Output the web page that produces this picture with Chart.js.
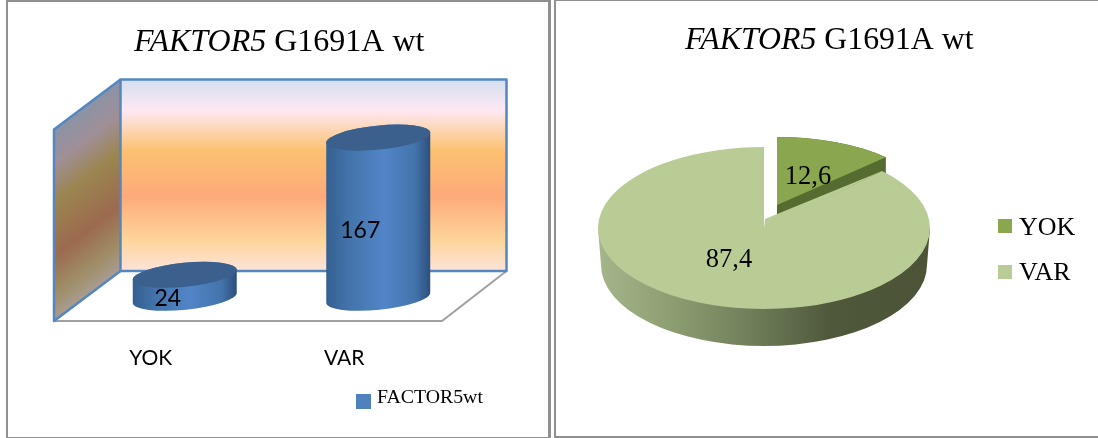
<!DOCTYPE html>
<html>
<head>
<meta charset="utf-8">
<script src="https://cdn.jsdelivr.net/npm/chart.js@4"></script>
<style>
html, body { margin: 0; background: #fff; overflow: hidden; }
.frame { position: absolute; top: 0; height: 435px; border: solid #8f8f8f; box-sizing: content-box; }
#frameL { left: 6px; width: 540px; border-width: 2px 3px 2px 2px; }
#frameR { left: 554px; width: 544px; border-width: 1px 0 2px 2px; }
canvas { position: absolute; top: 0; }
#barChart { left: 0; }
#pieChart { left: 552px; }
</style>
</head>
<body>
<div class="frame" id="frameL"></div>
<div class="frame" id="frameR"></div>
<canvas id="barChart" width="552" height="438"></canvas>
<canvas id="pieChart" width="546" height="438"></canvas>
<script>
var categories = ["YOK", "VAR"];
var counts = [24, 167];
var percents = [12.6, 87.4];
var seriesName = "FACTOR5wt";
var titleItalic = "FAKTOR5";
var titleRest = " G1691A wt";

var BLUE = "#4f81bd", GREEN = "#8aa64f", LIGHT_GREEN = "#b9cc95";
var SERIF = '"Liberation Serif"', SANS = "Lato";

function drawTitle(ctx, x, y, size) {
  ctx.save();
  ctx.fillStyle = "#000";
  ctx.textBaseline = "alphabetic";
  ctx.textAlign = "left";
  ctx.font = "italic " + size + "px " + SERIF;
  ctx.fillText(titleItalic, x, y);
  var w = ctx.measureText(titleItalic).width;
  ctx.font = size + "px " + SERIF;
  ctx.fillText(titleRest, x + w, y);
  ctx.restore();
}

function drawKey(ctx, x, y, size, color, text, font, textX, baseline) {
  ctx.save();
  ctx.fillStyle = color;
  ctx.fillRect(x, y, size, size);
  ctx.fillStyle = "#000";
  ctx.textAlign = "left";
  ctx.textBaseline = "alphabetic";
  ctx.font = font;
  ctx.fillText(text, textX, baseline);
  ctx.restore();
}

// back wall, side wall and floor of the 3d box
function drawBox(ctx) {
  var backL = 120.5, backR = 506.5, top = 79.5, floorY = 271;
  var frontL = 54, frontR = 442, frontY = 321;
  var sideTop = top + (frontY - floorY);

  var back = ctx.createLinearGradient(0, top, 0, floorY);
  back.addColorStop(0, "#d3dff0");
  back.addColorStop(0.16, "#fde8f3");
  back.addColorStop(0.37, "#fcc171");
  back.addColorStop(0.61, "#fdaa7a");
  back.addColorStop(0.84, "#fdd59b");
  back.addColorStop(1, "#fde3da");
  ctx.fillStyle = back;
  ctx.fillRect(backL, top, backR - backL, floorY - top);

  var side = ctx.createLinearGradient(frontL, sideTop, frontL + 92.5, sideTop + 121.7);
  side.addColorStop(0, "#8a93a6");
  side.addColorStop(0.18, "#a08f97");
  side.addColorStop(0.38, "#9b8550");
  side.addColorStop(0.66, "#9b6a4f");
  side.addColorStop(0.86, "#9f8d66");
  side.addColorStop(1, "#a89d92");
  ctx.fillStyle = side;
  ctx.beginPath();
  ctx.moveTo(frontL, sideTop);
  ctx.lineTo(backL, top);
  ctx.lineTo(backL, floorY);
  ctx.lineTo(frontL, frontY);
  ctx.closePath();
  ctx.fill();

  ctx.lineWidth = 2;
  ctx.strokeStyle = "#a0a0a0";
  ctx.beginPath();
  ctx.moveTo(frontL, frontY);
  ctx.lineTo(frontR, frontY);
  ctx.lineTo(backR, floorY);
  ctx.stroke();

  ctx.lineWidth = 2.5;
  ctx.strokeStyle = "#5487c2";
  ctx.lineJoin = "round";
  ctx.strokeRect(backL, top, backR - backL, floorY - top);
  ctx.beginPath();
  ctx.moveTo(backL, top);
  ctx.lineTo(frontL, sideTop);
  ctx.lineTo(frontL, frontY);
  ctx.lineTo(backL, floorY);
  ctx.stroke();
}

// draws a tilted cylinder over a bar element
function drawCylinder(ctx, bar) {
  var a = bar.width * 0.54, b = 12, tilt = -0.1;
  var cx = bar.x, topY = bar.y, baseY = bar.base;
  var body = ctx.createLinearGradient(cx - a, 0, cx + a, 0);
  body.addColorStop(0, "#345f90");
  body.addColorStop(0.2, "#4272a8");
  body.addColorStop(0.55, "#5285c7");
  body.addColorStop(0.85, "#4474ac");
  body.addColorStop(1, "#2c4f7c");
  ctx.fillStyle = body;
  ctx.beginPath();
  ctx.ellipse(cx, baseY, a, b, tilt, Math.PI, 0, true);
  ctx.ellipse(cx, topY, a, b, tilt, 0, Math.PI, true);
  ctx.closePath();
  ctx.fill();
  ctx.fillStyle = "#3b608e";
  ctx.beginPath();
  ctx.ellipse(cx, topY, a, b, tilt, 0, Math.PI * 2);
  ctx.fill();
}

var cylinderPlugin = {
  id: "cylinders",
  beforeDatasetsDraw: function (chart) {
    drawBox(chart.ctx);
  },
  afterDatasetsDraw: function (chart) {
    var ctx = chart.ctx;
    var bars = chart.getDatasetMeta(0).data;
    bars.forEach(function (bar) { drawCylinder(ctx, bar); });

    ctx.save();
    ctx.fillStyle = "#000";
    ctx.font = "23px " + SANS;
    ctx.textAlign = "center";
    ctx.textBaseline = "middle";
    ctx.fillText(String(counts[0]), bars[0].x - 17, 299);
    ctx.fillText(String(counts[1]), bars[1].x - 18, 231);
    ctx.restore();

    drawTitle(ctx, 134, 51, 32);
    drawKey(ctx, 356, 394, 15, BLUE, seriesName, "19.8px " + SERIF, 377, 403);
  }
};

new Chart(document.getElementById("barChart").getContext("2d"), {
  type: "bar",
  data: {
    labels: categories,
    datasets: [{ label: seriesName, data: counts, backgroundColor: BLUE, barPercentage: 0.5, categoryPercentage: 1 }]
  },
  options: {
    responsive: false,
    animation: false,
    layout: { padding: { left: 88, right: 77, top: 106, bottom: 19 } },
    plugins: { legend: { display: false }, tooltip: { enabled: false } },
    scales: {
      y: { display: false, min: 0, max: 200 },
      x: {
        grid: { display: false, drawTicks: false },
        border: { display: false },
        ticks: { color: "#000", padding: 48, labelOffset: -34, font: { family: SANS, size: 21 } }
      }
    }
  },
  plugins: [cylinderPlugin]
});

// pie faces are squashed into ellipses, one placement per slice
var OFFSET_X = 552;
var faces = [
  { cx: 777 - OFFSET_X, cy: 205, rx: 153, ry: 68 },
  { cx: 764 - OFFSET_X, cy: 228, rx: 166, ry: 81 }
];
var DEPTH = 37;

function drawRim(ctx, arcs) {
  var main = faces[1];
  var wall = ctx.createLinearGradient(main.cx - main.rx, 0, main.cx + main.rx, 0);
  wall.addColorStop(0, "#a6b68c");
  wall.addColorStop(0.22, "#8d9e72");
  wall.addColorStop(0.46, "#6f7f5a");
  wall.addColorStop(0.7, "#4f583b");
  wall.addColorStop(1, "#4c5337");
  ctx.fillStyle = wall;
  ctx.beginPath();
  ctx.moveTo(main.cx - main.rx, main.cy);
  ctx.lineTo(main.cx - main.rx + 3, main.cy + DEPTH);
  ctx.ellipse(main.cx, main.cy + DEPTH, main.rx - 3, main.ry, 0, Math.PI, 0, true);
  ctx.lineTo(main.cx + main.rx, main.cy);
  ctx.closePath();
  ctx.fill();

  // side of the pulled out slice
  var f = faces[0], a = arcs[0];
  ctx.fillStyle = "#566b30";
  ctx.beginPath();
  ctx.moveTo(f.cx, f.cy);
  ctx.ellipse(f.cx, f.cy, f.rx, f.ry, 0, a.startAngle, a.endAngle);
  ctx.lineTo(f.cx + f.rx * Math.cos(a.endAngle), f.cy + f.ry * Math.sin(a.endAngle) + DEPTH);
  ctx.lineTo(f.cx, f.cy + DEPTH);
  ctx.closePath();
  ctx.fill();
}

var piePlugin = {
  id: "pie3d",
  beforeDatasetsDraw: function (chart) {
    var ctx = chart.ctx;
    var arcs = chart.getDatasetMeta(0).data;
    drawRim(ctx, arcs);
    arcs.forEach(function (arc, i) {
      var f = faces[i];
      ctx.save();
      ctx.translate(f.cx, f.cy);
      ctx.scale(f.rx / arc.outerRadius, f.ry / arc.outerRadius);
      ctx.translate(-arc.x, -arc.y);
      arc.draw(ctx);
      ctx.restore();
    });

    // inner corner of the large slice sits above the ellipse centre
    var m = faces[1], e = arcs[0].endAngle;
    ctx.fillStyle = LIGHT_GREEN;
    ctx.beginPath();
    ctx.moveTo(m.cx, m.cy + 1);
    ctx.lineTo(m.cx + 1, 219);
    ctx.lineTo(m.cx + m.rx * Math.cos(e), m.cy + m.ry * Math.sin(e));
    ctx.closePath();
    ctx.fill();
    return false;
  },
  afterDraw: function (chart) {
    var ctx = chart.ctx;
    ctx.save();
    ctx.fillStyle = "#000";
    ctx.font = "26.5px " + SERIF;
    ctx.textAlign = "center";
    ctx.textBaseline = "alphabetic";
    ctx.fillText(String(percents[0]).replace(".", ","), 808 - OFFSET_X, 184);
    ctx.fillText(String(percents[1]).replace(".", ","), 729 - OFFSET_X, 267);
    ctx.restore();

    drawTitle(ctx, 685 - OFFSET_X, 48.5, 31.8);
    drawKey(ctx, 998 - OFFSET_X, 219, 14, GREEN, categories[0], "26px " + SERIF, 1019 - OFFSET_X, 235);
    drawKey(ctx, 998 - OFFSET_X, 265, 14, LIGHT_GREEN, categories[1], "26px " + SERIF, 1019 - OFFSET_X, 280);
  }
};

new Chart(document.getElementById("pieChart").getContext("2d"), {
  type: "pie",
  data: {
    labels: categories,
    datasets: [{ data: percents, backgroundColor: [GREEN, LIGHT_GREEN], borderWidth: 0 }]
  },
  options: {
    responsive: false,
    animation: false,
    plugins: { legend: { display: false }, tooltip: { enabled: false } }
  },
  plugins: [piePlugin]
});
</script>
</body>
</html>
